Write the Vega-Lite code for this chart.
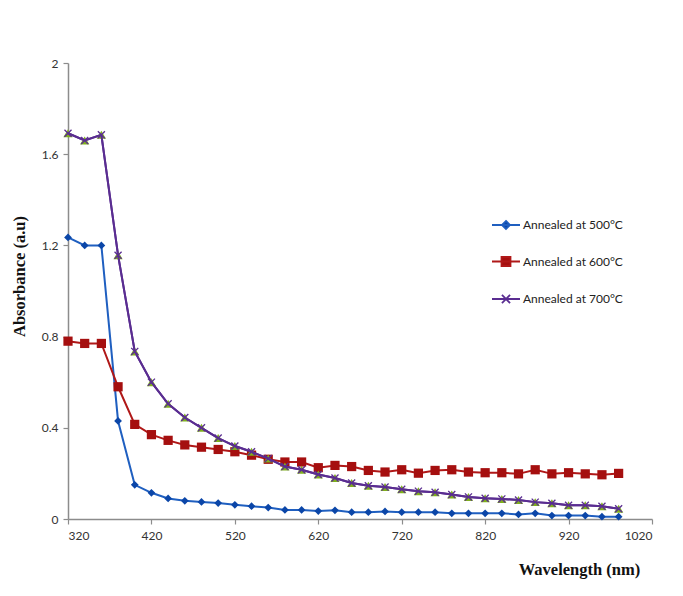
{
  "$schema": "https://vega.github.io/schema/vega-lite/v6.json",
  "autosize": {"type": "none"},
  "width": 584,
  "height": 456,
  "padding": {"left": 68, "top": 63, "right": 31, "bottom": 77},
  "background": "white",
  "config": {
    "view": {"stroke": null},
    "axis": {
      "labelFont": "Lato", "labelFontSize": 12, "labelColor": "#333",
      "domainColor": "#8c8c8c", "tickColor": "#8c8c8c", "domainWidth": 1.5, "tickWidth": 1.2,
      "tickSize": 5, "grid": false,
      "titleFont": "Liberation Serif", "titleFontWeight": "bold", "titleFontSize": 16.5, "titleColor": "#111"
    }
  },
  "data": {"values": [
    {"wl":320,"series":"Annealed at 500°C","abs":1.235},{"wl":340,"series":"Annealed at 500°C","abs":1.2},{"wl":360,"series":"Annealed at 500°C","abs":1.2},{"wl":380,"series":"Annealed at 500°C","abs":0.43},{"wl":400,"series":"Annealed at 500°C","abs":0.15},{"wl":420,"series":"Annealed at 500°C","abs":0.115},{"wl":440,"series":"Annealed at 500°C","abs":0.09},{"wl":460,"series":"Annealed at 500°C","abs":0.08},{"wl":480,"series":"Annealed at 500°C","abs":0.075},{"wl":500,"series":"Annealed at 500°C","abs":0.07},{"wl":520,"series":"Annealed at 500°C","abs":0.062},{"wl":540,"series":"Annealed at 500°C","abs":0.056},{"wl":560,"series":"Annealed at 500°C","abs":0.05},{"wl":580,"series":"Annealed at 500°C","abs":0.04},{"wl":600,"series":"Annealed at 500°C","abs":0.04},{"wl":620,"series":"Annealed at 500°C","abs":0.035},{"wl":640,"series":"Annealed at 500°C","abs":0.038},{"wl":660,"series":"Annealed at 500°C","abs":0.03},{"wl":680,"series":"Annealed at 500°C","abs":0.03},{"wl":700,"series":"Annealed at 500°C","abs":0.033},{"wl":720,"series":"Annealed at 500°C","abs":0.03},{"wl":740,"series":"Annealed at 500°C","abs":0.03},{"wl":760,"series":"Annealed at 500°C","abs":0.03},{"wl":780,"series":"Annealed at 500°C","abs":0.025},{"wl":800,"series":"Annealed at 500°C","abs":0.025},{"wl":820,"series":"Annealed at 500°C","abs":0.025},{"wl":840,"series":"Annealed at 500°C","abs":0.025},{"wl":860,"series":"Annealed at 500°C","abs":0.02},{"wl":880,"series":"Annealed at 500°C","abs":0.025},{"wl":900,"series":"Annealed at 500°C","abs":0.015},{"wl":920,"series":"Annealed at 500°C","abs":0.015},{"wl":940,"series":"Annealed at 500°C","abs":0.015},{"wl":960,"series":"Annealed at 500°C","abs":0.01},{"wl":980,"series":"Annealed at 500°C","abs":0.01},
    {"wl":320,"series":"Annealed at 600°C","abs":0.78},{"wl":340,"series":"Annealed at 600°C","abs":0.77},{"wl":360,"series":"Annealed at 600°C","abs":0.77},{"wl":380,"series":"Annealed at 600°C","abs":0.58},{"wl":400,"series":"Annealed at 600°C","abs":0.415},{"wl":420,"series":"Annealed at 600°C","abs":0.37},{"wl":440,"series":"Annealed at 600°C","abs":0.345},{"wl":460,"series":"Annealed at 600°C","abs":0.325},{"wl":480,"series":"Annealed at 600°C","abs":0.315},{"wl":500,"series":"Annealed at 600°C","abs":0.305},{"wl":520,"series":"Annealed at 600°C","abs":0.295},{"wl":540,"series":"Annealed at 600°C","abs":0.28},{"wl":560,"series":"Annealed at 600°C","abs":0.262},{"wl":580,"series":"Annealed at 600°C","abs":0.25},{"wl":600,"series":"Annealed at 600°C","abs":0.25},{"wl":620,"series":"Annealed at 600°C","abs":0.225},{"wl":640,"series":"Annealed at 600°C","abs":0.235},{"wl":660,"series":"Annealed at 600°C","abs":0.23},{"wl":680,"series":"Annealed at 600°C","abs":0.213},{"wl":700,"series":"Annealed at 600°C","abs":0.206},{"wl":720,"series":"Annealed at 600°C","abs":0.216},{"wl":740,"series":"Annealed at 600°C","abs":0.201},{"wl":760,"series":"Annealed at 600°C","abs":0.213},{"wl":780,"series":"Annealed at 600°C","abs":0.216},{"wl":800,"series":"Annealed at 600°C","abs":0.206},{"wl":820,"series":"Annealed at 600°C","abs":0.203},{"wl":840,"series":"Annealed at 600°C","abs":0.203},{"wl":860,"series":"Annealed at 600°C","abs":0.198},{"wl":880,"series":"Annealed at 600°C","abs":0.216},{"wl":900,"series":"Annealed at 600°C","abs":0.198},{"wl":920,"series":"Annealed at 600°C","abs":0.203},{"wl":940,"series":"Annealed at 600°C","abs":0.198},{"wl":960,"series":"Annealed at 600°C","abs":0.194},{"wl":980,"series":"Annealed at 600°C","abs":0.2},
    {"wl":320,"series":"Annealed at 700°C","abs":1.692},{"wl":340,"series":"Annealed at 700°C","abs":1.66},{"wl":360,"series":"Annealed at 700°C","abs":1.685},{"wl":380,"series":"Annealed at 700°C","abs":1.157},{"wl":400,"series":"Annealed at 700°C","abs":0.735},{"wl":420,"series":"Annealed at 700°C","abs":0.6},{"wl":440,"series":"Annealed at 700°C","abs":0.505},{"wl":460,"series":"Annealed at 700°C","abs":0.445},{"wl":480,"series":"Annealed at 700°C","abs":0.4},{"wl":500,"series":"Annealed at 700°C","abs":0.355},{"wl":520,"series":"Annealed at 700°C","abs":0.32},{"wl":540,"series":"Annealed at 700°C","abs":0.295},{"wl":560,"series":"Annealed at 700°C","abs":0.265},{"wl":580,"series":"Annealed at 700°C","abs":0.23},{"wl":600,"series":"Annealed at 700°C","abs":0.216},{"wl":620,"series":"Annealed at 700°C","abs":0.195},{"wl":640,"series":"Annealed at 700°C","abs":0.18},{"wl":660,"series":"Annealed at 700°C","abs":0.158},{"wl":680,"series":"Annealed at 700°C","abs":0.146},{"wl":700,"series":"Annealed at 700°C","abs":0.14},{"wl":720,"series":"Annealed at 700°C","abs":0.13},{"wl":740,"series":"Annealed at 700°C","abs":0.122},{"wl":760,"series":"Annealed at 700°C","abs":0.117},{"wl":780,"series":"Annealed at 700°C","abs":0.107},{"wl":800,"series":"Annealed at 700°C","abs":0.097},{"wl":820,"series":"Annealed at 700°C","abs":0.091},{"wl":840,"series":"Annealed at 700°C","abs":0.088},{"wl":860,"series":"Annealed at 700°C","abs":0.083},{"wl":880,"series":"Annealed at 700°C","abs":0.074},{"wl":900,"series":"Annealed at 700°C","abs":0.069},{"wl":920,"series":"Annealed at 700°C","abs":0.06},{"wl":940,"series":"Annealed at 700°C","abs":0.06},{"wl":960,"series":"Annealed at 700°C","abs":0.056},{"wl":980,"series":"Annealed at 700°C","abs":0.045}
  ]},
  "encoding": {
    "x": {"field": "wl", "type": "quantitative",
      "scale": {"domain": [320, 1020], "nice": false, "zero": false},
      "axis": {"values": [320,420,520,620,720,820,920,1020], "format": "d", "title": "Wavelength (nm)",
        "labelPadding": 6, "titleX": 511, "titleY": 50, "titleBaseline": "middle", "titleAnchor": "middle", "titleAlign": "center"}},
    "y": {"field": "abs", "type": "quantitative",
      "scale": {"domain": [0, 2], "nice": false},
      "axis": {"values": [0,0.4,0.8,1.2,1.6,2], "format": ".1~f", "title": "Absorbance (a.u)",
        "labelPadding": 5, "titleX": -49, "titleY": 213, "titleBaseline": "middle", "titleAlign": "center", "titleAngle": 270}}
  },
  "layer": [
    {
      "mark": {"type": "line", "strokeWidth": 2},
      "encoding": {
        "color": {"field": "series", "type": "nominal",
          "scale": {"domain": ["Annealed at 500°C","Annealed at 600°C","Annealed at 700°C"], "range": ["#1f5fc0","#b01818","#5a2d91"]},
          "legend": {
            "title": null, "orient": "none", "legendX": 423, "legendY": 147,
            "padding": 0, "rowPadding": 13.5, "labelOffset": 2,
            "labelFont": "Lato", "labelFontSize": 12, "labelColor": "#222",
            "symbolSize": 784,
            "encode": {"symbols": {"update": {
              "shape": {"signal": "datum.value == 'Annealed at 500°C' ? 'M-1,0H1M0,-0.29L0.29,0L0,0.29L-0.29,0Z' : datum.value == 'Annealed at 600°C' ? 'M-1,0H1M-0.32,-0.32H0.32V0.32H-0.32Z' : 'M-1,0H1M-0.29,-0.29L0.29,0.29M-0.29,0.29L0.29,-0.29'"},
              "fill": {"signal": "datum.value == 'Annealed at 500°C' ? '#0b46a8' : datum.value == 'Annealed at 600°C' ? '#a50f0f' : 'transparent'"},
              "stroke": {"signal": "datum.value == 'Annealed at 500°C' ? '#1f5fc0' : datum.value == 'Annealed at 600°C' ? '#b01818' : '#5a2d91'"},
              "strokeWidth": {"value": 1.8},
              "opacity": {"value": 1}
            }}}
          }
        },
        "order": {"field": "wl", "type": "quantitative"}
      }
    },
    {
      "transform": [{"filter": "datum.series == 'Annealed at 500°C'"}],
      "mark": {"type": "point", "shape": "diamond", "filled": true, "size": 60, "color": "#0b46a8", "opacity": 1}
    },
    {
      "transform": [{"filter": "datum.series == 'Annealed at 600°C'"}],
      "mark": {"type": "point", "shape": "square", "filled": true, "size": 85, "color": "#a50f0f", "opacity": 1}
    },
    {
      "transform": [{"filter": "datum.series == 'Annealed at 700°C'"}],
      "mark": {"type": "point", "shape": "triangle-up", "filled": true, "size": 85, "color": "#7fae1e", "opacity": 1}
    },
    {
      "transform": [{"filter": "datum.series == 'Annealed at 700°C'"}],
      "mark": {"type": "line", "strokeWidth": 2, "color": "#5a2d91"},
      "encoding": {"order": {"field": "wl", "type": "quantitative"}}
    },
    {
      "transform": [{"filter": "datum.series == 'Annealed at 700°C'"}],
      "mark": {"type": "point", "shape": "M-1,-1L1,1M-1,1L1,-1", "filled": false, "size": 50, "color": "#5a2d91", "strokeWidth": 1.3, "opacity": 1}
    }
  ]
}
